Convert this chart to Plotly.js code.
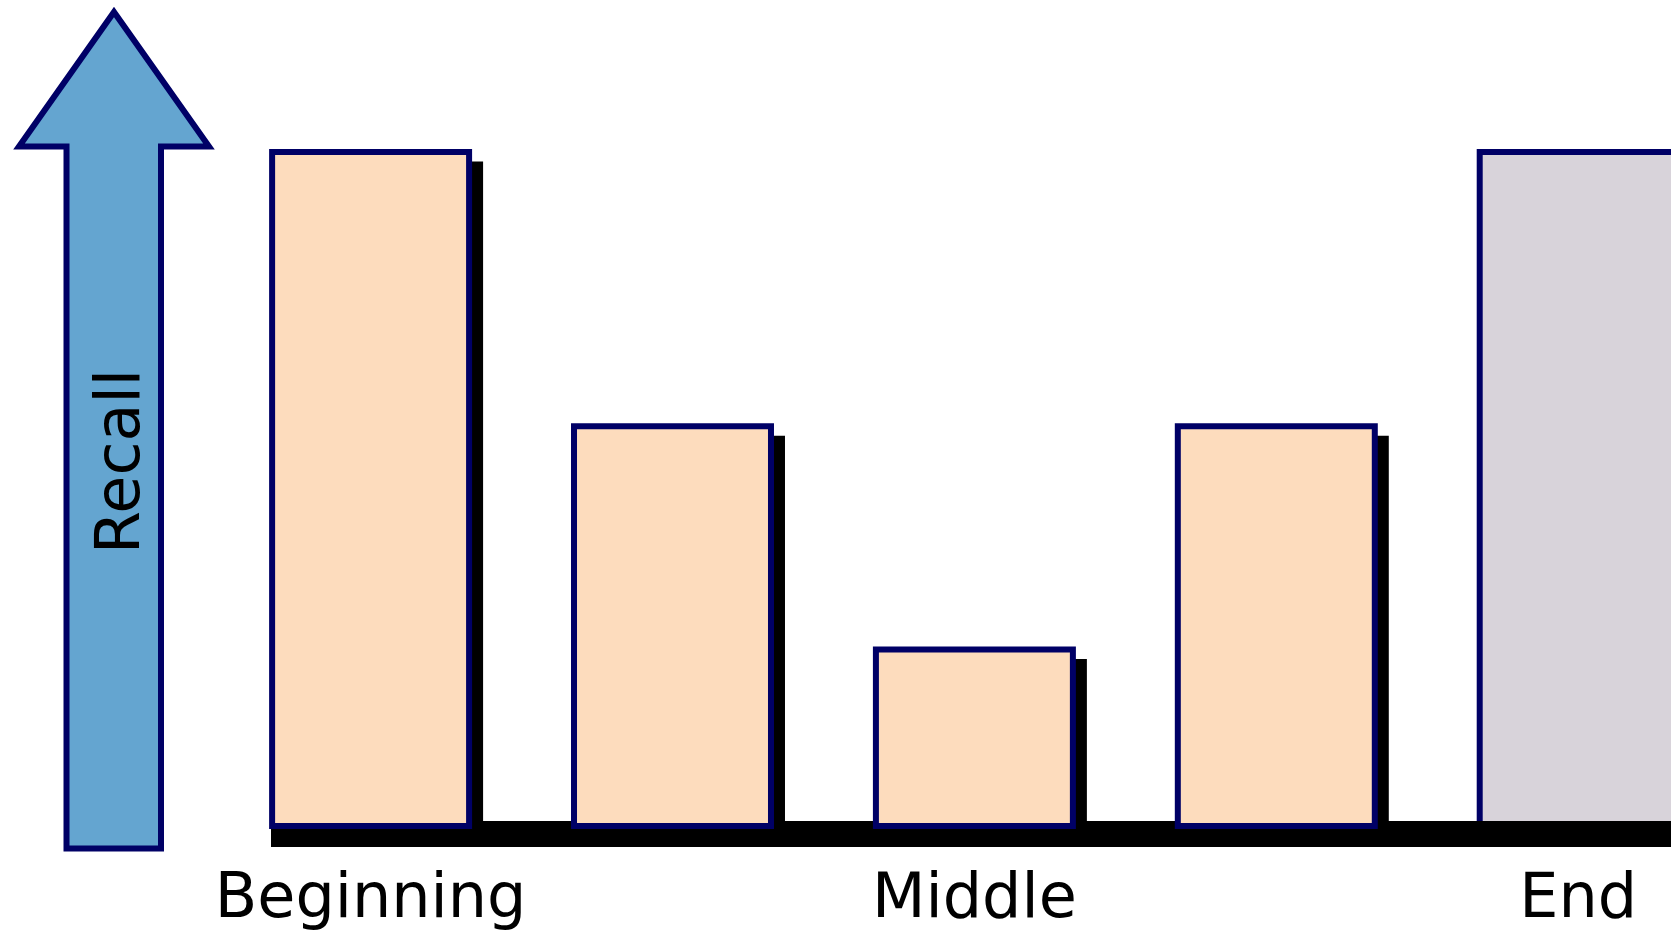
<!DOCTYPE html>
<html><head><meta charset="utf-8">
<script src="https://cdn.plot.ly/plotly-3.0.1.min.js"></script>
<style>html,body{margin:0;padding:0;background:#fff;overflow:hidden}#chart{width:1671px;height:934px}</style>
</head><body><div id="chart"></div>
<script>
// ---- data ----
const steps = [0, 1, 2, 3, 4];
const recall = [100, 59.3, 26.2, 59.3, 100];
const barColors = ['#FDDCBD', '#FDDCBD', '#FDDCBD', '#FDDCBD', '#D8D3DA'];
const tickSteps = [0, 2, 4];
const tickLabels = ['Beginning', 'Middle', 'End'];
const axisTitle = 'Recall';

// ---- geometry / style ----
const W = 1671, H = 934, B = 100;            // figure size, bottom margin
const PH = H - B;                             // plot height
const PX_PER_STEP = 301.9, PX_PER_UNIT = 6.74;
const X0_PX = 370.6, Y0_PX = 826;             // where step 0 / value 0 sit
const NAVY = '#000066';
const FONT = 'DejaVu Sans, Verdana, sans-serif';
const FS = 62;
const barW = 0.6525;

const xRange = [-X0_PX / PX_PER_STEP, (W - X0_PX) / PX_PER_STEP];
const yRange = [-(PH - Y0_PX) / PX_PER_UNIT, Y0_PX / PX_PER_UNIT];

const px = x => x / W, py = y => (PH - y) / PH;

const shadow = {
  type: 'bar', x: steps, y: recall.map(v => v - 9.5 / PX_PER_UNIT),
  width: barW, offset: -barW / 2 + 14 / PX_PER_STEP,
  marker: {color: '#000000', line: {width: 0}},
  hoverinfo: 'skip', showlegend: false
};
const bars = {
  type: 'bar', x: steps, y: recall,
  width: barW, offset: -barW / 2,
  marker: {color: barColors, line: {color: NAVY, width: 6}},
  hoverinfo: 'skip', showlegend: false
};

const arrowPts = [[114, 12], [209, 146.5], [161, 146.5], [161, 848.5], [66.5, 848.5], [66.5, 146.5], [19, 146.5]];
const arrowPath = 'M ' + arrowPts.map(p => px(p[0]).toFixed(5) + ',' + py(p[1]).toFixed(5)).join(' L ') + ' Z';

const lastStep = steps[steps.length - 1];

const layout = {
  width: W, height: H,
  margin: {l: 0, r: 0, t: 0, b: B, pad: 0},
  paper_bgcolor: '#ffffff', plot_bgcolor: 'rgba(0,0,0,0)',
  barmode: 'overlay', showlegend: false,
  xaxis: {
    range: xRange, tickvals: tickSteps, ticktext: tickLabels,
    ticks: '', showline: false, showgrid: false, zeroline: false,
    tickfont: {family: FONT, size: FS, color: '#000000'},
    ticklabelstandoff: 20, fixedrange: true
  },
  yaxis: {range: yRange, visible: false, showgrid: false, zeroline: false, fixedrange: true},
  shapes: [
    // baseline (under the first bars)
    {type: 'rect', xref: 'paper', yref: 'paper', x0: px(271), x1: 1.01, y0: py(847), y1: py(821),
     fillcolor: '#000000', line: {width: 0}, layer: 'below'},
    // baseline drawn over the last (grey) bar
    {type: 'rect', xref: 'x', yref: 'paper', x0: lastStep - barW / 2 - 0.02, x1: xRange[1] + 0.1,
     y0: py(847), y1: py(821), fillcolor: '#000000', line: {width: 0}, layer: 'above'},
    {type: 'path', xref: 'paper', yref: 'paper', path: arrowPath,
     fillcolor: '#64A5D0', line: {color: NAVY, width: 6}, layer: 'above'}
  ],
  annotations: [
    {text: axisTitle, xref: 'paper', yref: 'paper', x: px(117), y: py(462), textangle: -90,
     showarrow: false, xanchor: 'center', yanchor: 'middle',
     font: {family: FONT, size: FS, color: '#000000'}}
  ]
};

Plotly.newPlot('chart', [shadow, bars], layout, {staticPlot: true, displayModeBar: false});
</script></body></html>
